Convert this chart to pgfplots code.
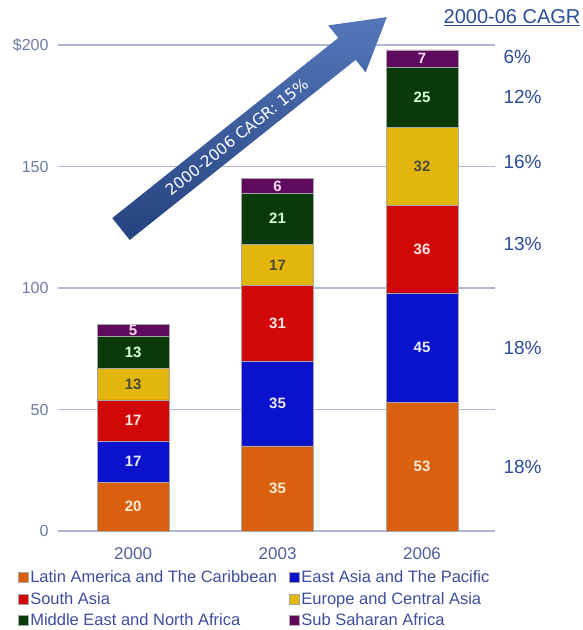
\documentclass[border=0pt]{standalone}
\usepackage{pgfplots}
\pgfplotsset{compat=1.18}
\usepackage{fontspec}
\setmainfont{Liberation Sans}
\newfontfamily\arrowfont{DejaVu Sans}

\definecolor{tickc}{HTML}{6B7CA6}
\definecolor{xtickc}{HTML}{4E5F98}
\definecolor{legc}{HTML}{3C4D9C}
\definecolor{cagrc}{HTML}{2B4C98}
\definecolor{gridc}{HTML}{AEB8D2}
% bar colours
\definecolor{orC}{HTML}{D9600F}
\definecolor{blC}{HTML}{0A12CC}
\definecolor{reC}{HTML}{D20808}
\definecolor{yeC}{HTML}{E2B60A}
\definecolor{grC}{HTML}{083A0A}
\definecolor{puC}{HTML}{5E0A5E}
\definecolor{arD}{HTML}{24427E}\definecolor{arL}{HTML}{5577BA}

\pgfplotsset{
  chartgeom/.style={
    width=437pt, height=486pt, scale only axis,
    xmin=-0.52, xmax=2.505, ymin=0, ymax=200,
    clip=false,
  },
  seg/.style={fill=#1, draw=black!35, line width=0.4pt},
  lab/.style={draw=none, forget plot, nodes near coords, point meta=explicit symbolic,
    every node near coord/.append style={anchor=center, font=\fontsize{15}{17}\selectfont\bfseries, text=#1}},
}

\begin{document}
\begin{tikzpicture}
\begin{axis}[
  chartgeom,
  ybar stacked, bar width=72pt,
  xtick={0,1,2}, xticklabels={2000,2003,2006},
  ytick={0,50,100,150,200}, yticklabels={0,50,100,150,\$200},
  ymajorgrids, grid style={line width=1.3pt, color=gridc},
  axis line style={draw=none}, major tick length=0pt,
  /pgf/number format/assume math mode=true,
  yticklabel style={font=\fontsize{16}{18}\selectfont, text=tickc, xshift=-6pt},
  xticklabel style={font=\fontsize{17}{19}\selectfont, text=xtickc, yshift=-13pt},
  legend columns=2,
  legend cell align=left,
  legend image code/.code={\fill[#1] (0pt,-5pt) rectangle (10pt,5pt);},
  legend style={at={(axis description cs:-0.098,-0.074)}, anchor=north west,
    draw=none, fill=none, font=\fontsize{16.5}{19}\selectfont, text=legc,
    nodes={inner sep=1.5pt}, row sep=5pt,
    /tikz/every even column/.append style={column sep=11pt}},
]
\addplot[seg=orC] coordinates {(0,20) (1,35) (2,53)};
\addlegendentry{Latin America and The Caribbean}
\addplot[seg=blC] coordinates {(0,17) (1,35) (2,45)};
\addlegendentry{East Asia and The Pacific}
\addplot[seg=reC] coordinates {(0,17) (1,31) (2,36)};
\addlegendentry{South Asia}
\addplot[seg=yeC] coordinates {(0,13) (1,17) (2,32)};
\addlegendentry{Europe and Central Asia}
\addplot[seg=grC] coordinates {(0,13) (1,21) (2,25)};
\addlegendentry{Middle East and North Africa}
\addplot[seg=puC] coordinates {(0,5) (1,6) (2,7)};
\addlegendentry{Sub Saharan Africa}

% CAGR column
\node[anchor=center, text=cagrc, font=\fontsize{20}{22}\selectfont] at (axis cs:2.623,211.1) {\underline{2000-06 CAGR}};
\node[anchor=west, text=cagrc, font=\fontsize{19}{21}\selectfont] at (axis cs:2.54,195.0) {6\%};
\node[anchor=west, text=cagrc, font=\fontsize{19}{21}\selectfont] at (axis cs:2.54,178.6) {12\%};
\node[anchor=west, text=cagrc, font=\fontsize{19}{21}\selectfont] at (axis cs:2.54,151.9) {16\%};
\node[anchor=west, text=cagrc, font=\fontsize{19}{21}\selectfont] at (axis cs:2.54,118.0) {13\%};
\node[anchor=west, text=cagrc, font=\fontsize{19}{21}\selectfont] at (axis cs:2.54,75.3) {18\%};
\node[anchor=west, text=cagrc, font=\fontsize{19}{21}\selectfont] at (axis cs:2.54,26.3) {18\%};
\end{axis}

% segment labels, centred in each segment
\begin{axis}[chartgeom, hide axis]
\addplot[lab={orange!15!white}] coordinates {(0,10)[20] (1,17.5)[35] (2,26.5)[53]};
\addplot[lab={blue!8!white}] coordinates {(0,28.5)[17] (1,52.5)[35] (2,75.5)[45]};
\addplot[lab={red!10!white}] coordinates {(0,45.5)[17] (1,85.5)[31] (2,116)[36]};
\addplot[lab={black!80!yellow}] coordinates {(0,60.5)[13] (1,109.5)[17] (2,150)[32]};
\addplot[lab={green!15!white}] coordinates {(0,73.5)[13] (1,128.5)[21] (2,178.5)[25]};
\addplot[lab={magenta!15!white}] coordinates {(0,82.5)[5] (1,142)[6] (2,194.5)[7]};
\end{axis}

% growth arrow
\begin{scope}[shift={(63pt,302pt)}, rotate=38.56]
\shade[top color=arL, bottom color=arD]
  (0pt,-14pt) -- (289pt,-14pt) -- (289pt,-30pt) -- (340pt,0pt)
  -- (289pt,30pt) -- (289pt,14pt) -- (0pt,14pt) -- cycle;
\node[transform shape, text=white, font=\arrowfont\fontsize{15.5}{17}\selectfont] at (148pt,0pt) {2000-2006 CAGR: 15\%};
\end{scope}

\pgfresetboundingbox
\path (-58pt,-99pt) rectangle (525pt,531pt);
\end{tikzpicture}
\end{document}
